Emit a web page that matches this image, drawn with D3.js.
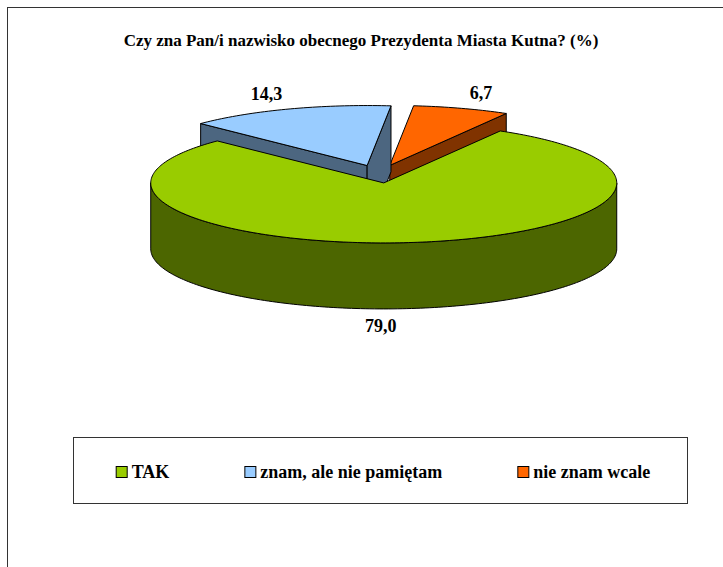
<!DOCTYPE html>
<html>
<head>
  <meta charset="utf-8">
  <style>
    body { margin: 0; background: #fff; }
    svg text { font-family: "Liberation Serif", "Times New Roman", Times, "DejaVu Serif", serif; font-weight: bold; fill: #000; }
    svg .edge { stroke: #000; stroke-width: 1px; stroke-linejoin: round; }
  </style>
</head>
<body>
  <div id="chart"></div>
  <script src="https://d3js.org/d3.v7.min.js"></script>
  <script>
    // data
    var categories = ["TAK", "znam, ale nie pamiętam", "nie znam wcale"];
    var values = [79.0, 14.3, 6.7];
    var valueLabels = ["79,0", "14,3", "6,7"];
    var topColors = ["#99CC00", "#99CCFF", "#FF6600"];
    var sideColors = ["#4C6600", "#4C6680", "#803300"];
    var title = "Czy zna Pan/i nazwisko obecnego Prezydenta Miasta Kutna? (%)";

    var W = 723, H = 567;
    var FONT = "'Liberation Serif', 'Times New Roman', Times, 'DejaVu Serif', serif";
    var cx = 379, cy = 174,   // pie centre before explosion
        rx = 233, ry = 60,    // ellipse radii of the top face
        depth = 66,           // thickness
        explode = 0.15,
        firstAngle = 30 * Math.PI / 180;

    var svg = d3.select("#chart").append("svg")
      .attr("width", W).attr("height", H);

    // outer frame (cut off at right / bottom)
    svg.append("rect")
      .attr("x", 7.5).attr("y", 7.5)
      .attr("width", W + 20).attr("height", H + 20)
      .attr("fill", "none").attr("stroke", "#333").attr("stroke-width", 1);

    svg.append("text")
      .attr("x", 361).attr("y", 46)
      .attr("text-anchor", "middle")
      .attr("font-family", FONT)
      .style("font-size", "17px")
      .text(title);

    var pie = d3.pie().sort(null).value(function(d) { return d; })
      .startAngle(firstAngle).endAngle(firstAngle + 2 * Math.PI);
    var arcs = pie(values);

    var line = d3.line();

    arcs.forEach(function(a, i) {
      var m = (a.startAngle + a.endAngle) / 2;
      a.i = i;
      a.mid = m;
      a.ox = cx + explode * rx * Math.sin(m);
      a.oy = cy - explode * ry * Math.cos(m);
    });

    function pt(a, t, z) {
      return [a.ox + rx * Math.sin(t), a.oy - ry * Math.cos(t) + z];
    }
    function arcPts(a, t0, t1, z) {
      var n = Math.max(2, Math.ceil(Math.abs(t1 - t0) / 0.02));
      return d3.range(n + 1).map(function(k) { return pt(a, t0 + (t1 - t0) * k / n, z); });
    }

    // back slices first
    var order = arcs.slice().sort(function(p, q) { return p.oy - q.oy; });
    var g = svg.append("g");

    order.forEach(function(a) {
      var i = a.i;
      var apexTop = [a.ox, a.oy], apexBot = [a.ox, a.oy + depth];

      // radial cut faces
      if (Math.sin(a.startAngle) < 0) {
        g.append("path").attr("class", "edge").attr("fill", sideColors[i])
          .attr("d", line([apexTop, pt(a, a.startAngle, 0), pt(a, a.startAngle, depth), apexBot]) + "Z");
      }
      if (Math.sin(a.endAngle) > 0) {
        g.append("path").attr("class", "edge").attr("fill", sideColors[i])
          .attr("d", line([apexTop, pt(a, a.endAngle, 0), pt(a, a.endAngle, depth), apexBot]) + "Z");
      }

      // outer wall, front half only
      [0, 1].forEach(function(k) {
        var lo = Math.max(a.startAngle, Math.PI / 2 + 2 * Math.PI * k);
        var hi = Math.min(a.endAngle, 3 * Math.PI / 2 + 2 * Math.PI * k);
        if (hi > lo) {
          var pts = arcPts(a, lo, hi, 0).concat(arcPts(a, hi, lo, depth));
          g.append("path").attr("class", "edge").attr("fill", sideColors[i])
            .attr("d", line(pts) + "Z");
        }
      });

      // top face
      var top = [apexTop].concat(arcPts(a, a.startAngle, a.endAngle, 0));
      g.append("path").attr("class", "edge").attr("fill", topColors[i])
        .attr("d", line(top) + "Z");
    });

    // value labels
    arcs.forEach(function(a) {
      var x, y;
      if (Math.cos(a.mid) >= 0) {
        x = a.ox + 1.27 * rx * Math.sin(a.mid);
        y = a.oy - 1.27 * ry * Math.cos(a.mid) + 6;
      } else {
        x = a.ox - 3;
        y = a.oy - ry * Math.cos(a.mid) + depth + 24;
      }
      svg.append("text")
        .attr("x", x).attr("y", y)
        .attr("text-anchor", "middle")
        .attr("font-family", FONT)
        .style("font-size", "18px")
        .text(valueLabels[a.i]);
    });

    // legend
    var lg = { x: 73, y: 437, w: 614, h: 66 };
    svg.append("rect")
      .attr("x", lg.x + 0.5).attr("y", lg.y + 0.5)
      .attr("width", lg.w).attr("height", lg.h)
      .attr("fill", "#fff").attr("stroke", "#333").attr("stroke-width", 1);

    var items = svg.append("g");
    var box = 11, gapText = 5, gapItem = 75;
    var xs = 0;
    categories.forEach(function(c, i) {
      var it = items.append("g").attr("transform", "translate(" + xs + ",0)");
      it.append("rect")
        .attr("x", 0.5).attr("y", 0.5)
        .attr("width", box).attr("height", box)
        .attr("fill", topColors[i]).attr("stroke", "#000").attr("stroke-width", 1);
      var t = it.append("text")
        .attr("x", box + gapText).attr("y", 12)
        .attr("font-family", FONT)
        .style("font-size", "18px")
        .text(c);
      xs += box + gapText + t.node().getComputedTextLength() + gapItem;
    });
    var totalW = xs - gapItem;
    items.attr("transform", "translate(" + (lg.x + lg.w / 2 + 3 - totalW / 2) + "," + 466 + ")");
  </script>
</body>
</html>
